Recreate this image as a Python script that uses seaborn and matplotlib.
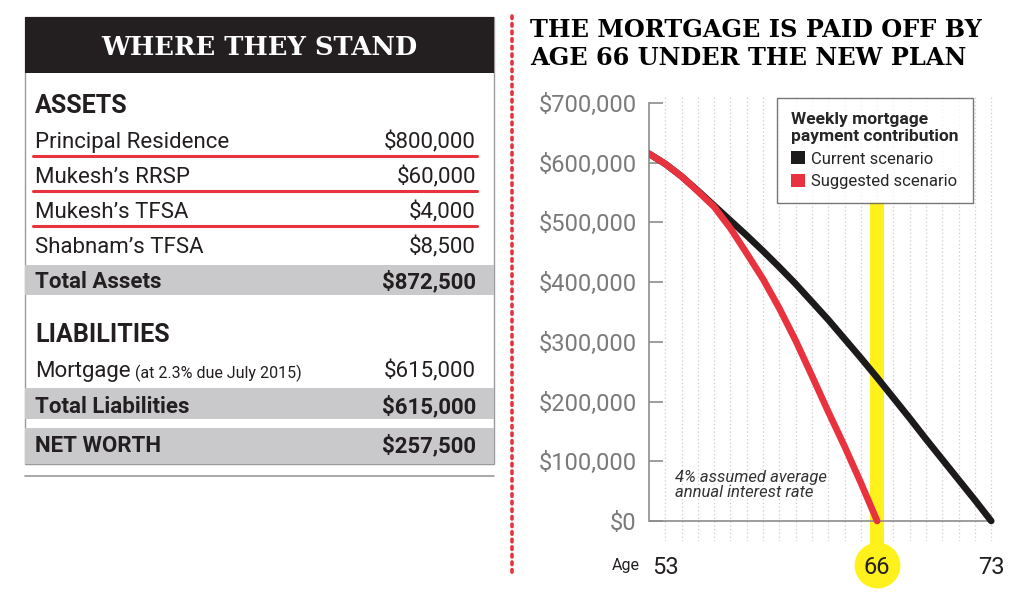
import pandas as pd
import matplotlib.pyplot as plt
import seaborn as sns
from matplotlib.patches import Rectangle, Patch
from matplotlib.lines import Line2D
from matplotlib.ticker import FuncFormatter

sns.set_style("white")
plt.rcParams["font.family"] = ["Roboto", "DejaVu Sans"]

# ---- data ----
ages_current = list(range(52, 74))
balance_current = [615000, 598000, 577000, 553000, 528000, 503000, 478000, 452000,
                   425000, 397000, 367000, 337000, 305000, 273000, 240000, 206000,
                   172000, 137000, 103000, 69000, 35000, 0]
ages_suggested = list(range(52, 67))
balance_suggested = [615000, 598000, 577000, 552000, 526000, 490000, 448000, 405000,
                     356000, 302000, 243000, 183000, 125000, 64000, 0]

asset_names = ["Principal Residence", "Mukesh\u2019s RRSP", "Mukesh\u2019s TFSA", "Shabnam\u2019s TFSA"]
asset_values = ["$800,000", "$60,000", "$4,000", "$8,500"]
total_assets = "$872,500"
liability_names = ["Mortgage"]
liability_notes = ["(at 2.3% due July 2015)"]
liability_values = ["$615,000"]
total_liabilities = "$615,000"
net_worth = "$257,500"

payoff_age = 66
age_labels = [53, 66, 73]

RED = "#e8333f"
BLACK = "#1c1a1b"
YELLOW = "#fff21c"
GREY_BAND = "#c9c9cb"
SLAB = dict(family="DejaVu Serif", weight="heavy")

df = pd.concat([
    pd.DataFrame({"age": ages_current, "balance": balance_current, "scenario": "Current scenario"}),
    pd.DataFrame({"age": ages_suggested, "balance": balance_suggested, "scenario": "Suggested scenario"}),
])

fig = plt.figure(figsize=(10.24, 5.96), dpi=100)

# ---- left panel: table drawn in pixel coordinates ----
bg = fig.add_axes([0, 0, 1, 1])
bg.set_xlim(0, 1024)
bg.set_ylim(596, 0)
bg.axis("off")

bg.add_patch(Rectangle((25, 17), 469, 447, facecolor="white", edgecolor="#9a9a9a", lw=1))
bg.add_patch(Rectangle((25, 17), 469, 56, facecolor="#231f20", edgecolor="none"))
bg.text(259, 55, "WHERE THEY STAND", color="white", fontsize=18.5, ha="center", va="baseline", **SLAB)

bg.text(35, 113, "ASSETS", fontsize=18, weight="bold", color="#231f20", va="baseline")
row_y = [148, 183, 218, 253]
for i, (name, val) in enumerate(zip(asset_names, asset_values)):
    bg.text(35, row_y[i], name, fontsize=16, color="#231f20", va="baseline")
    bg.text(476, row_y[i], val, fontsize=16, color="#231f20", va="baseline", ha="right")
    if i < len(asset_names) - 1:
        bg.plot([33, 477], [row_y[i] + 8, row_y[i] + 8], color=RED, lw=2.2)

bg.add_patch(Rectangle((25, 265), 469, 30, facecolor=GREY_BAND, edgecolor="none"))
bg.text(35, 288, "Total Assets", fontsize=16, weight="bold", color="#231f20", va="baseline")
bg.text(476, 288, total_assets, fontsize=16, weight="bold", color="#231f20", va="baseline", ha="right")

bg.text(35, 342, "LIABILITIES", fontsize=18, weight="bold", color="#231f20", va="baseline")
mort = bg.text(35, 377, liability_names[0], fontsize=16, color="#231f20", va="baseline")
bg.annotate(" " + liability_notes[0], xycoords=mort, xy=(1, 0), va="bottom",
            fontsize=11.5, color="#231f20")
bg.text(476, 377, liability_values[0], fontsize=16, color="#231f20", va="baseline", ha="right")

bg.add_patch(Rectangle((25, 388), 469, 31, facecolor=GREY_BAND, edgecolor="none"))
bg.text(35, 413, "Total Liabilities", fontsize=16, weight="bold", color="#231f20", va="baseline")
bg.text(476, 413, total_liabilities, fontsize=16, weight="bold", color="#231f20", va="baseline", ha="right")

bg.add_patch(Rectangle((25, 428), 469, 36, facecolor=GREY_BAND, edgecolor="none"))
bg.text(35, 452, "NET WORTH", fontsize=16, weight="bold", color="#231f20", va="baseline")
bg.text(476, 452, net_worth, fontsize=16, weight="bold", color="#231f20", va="baseline", ha="right")

bg.plot([25, 494], [476, 476], color="#9a9a9a", lw=1.2)

# red dotted divider
bg.add_line(Line2D([512, 512], [16, 576], color=RED, lw=2.6, linestyle=(0, (0.7, 1.4)),
                   dash_capstyle="round"))

bg.text(530, 37, "THE MORTGAGE IS PAID OFF BY", fontsize=17.3, color="black", va="baseline", **SLAB)
bg.text(530, 65, "AGE 66 UNDER THE NEW PLAN", fontsize=17.3, color="black", va="baseline", **SLAB)

# ---- right panel: chart ----
ax = fig.add_axes([649 / 1024, 1 - 541 / 596, 352 / 1024, (541 - 97) / 596])
ax.set_xlim(52, 73.6)
ax.set_ylim(-33500, 710000)

ax.vlines(range(53, 74), -33500, 710000, colors="#cdcdcd", linestyles=(0, (1, 2)), lw=0.9, zorder=0.3)

ax.add_patch(Rectangle((payoff_age - 0.43, -75000), 0.86, 610000, facecolor=YELLOW,
                       edgecolor="none", clip_on=False, zorder=0.4))
ax.plot([payoff_age], [-74000], "o", ms=32, color=YELLOW, clip_on=False, zorder=0.4)

ax.hlines(0, 52, 73, color="#8c8c8c", lw=1.2, zorder=1)

sns.lineplot(data=df, x="age", y="balance", hue="scenario",
             hue_order=["Current scenario", "Suggested scenario"],
             palette={"Current scenario": BLACK, "Suggested scenario": RED},
             linewidth=4.8, solid_capstyle="round", legend=False, ax=ax, zorder=3)

for s in ["top", "right", "bottom"]:
    ax.spines[s].set_visible(False)
ax.spines["left"].set_bounds(0, 700000)
ax.spines["left"].set_color("#8c8c8c")
ax.spines["left"].set_linewidth(1.2)

ax.set_yticks(range(0, 700001, 100000))
ax.yaxis.set_major_formatter(FuncFormatter(lambda v, p: f"${v:,.0f}"))
ax.tick_params(axis="y", direction="in", length=10, width=1.2, color="#8c8c8c",
               labelcolor="#7a7a7a", labelsize=17, pad=9, left=True)
ax.set_xticks(age_labels)
ax.set_xticklabels([str(a) for a in age_labels])
ax.tick_params(axis="x", length=0, labelsize=17, labelcolor="#231f20", pad=11)
ax.xaxis.set_zorder(4)
ax.set_xlabel("")
ax.set_ylabel("")
ax.grid(False)

ax.text(50.6, -74000, "Age", fontsize=11.5, color="#231f20", ha="center", va="center", clip_on=False)

ax.text(53.6, 61000, "4% assumed average\nannual interest rate", fontsize=12, style="italic",
        color="#333333", va="center", linespacing=1.0)

handles = [Patch(facecolor=BLACK, edgecolor="none"), Patch(facecolor=RED, edgecolor="none")]
leg = ax.legend(handles, ["Current scenario", "Suggested scenario"],
                title="Weekly mortgage\npayment contribution",
                loc="upper left", bbox_to_anchor=(777 / 1024, 1 - 98 / 596),
                bbox_transform=fig.transFigure, frameon=True, fancybox=False,
                fontsize=12, title_fontproperties={"weight": "bold", "size": 12.5},
                alignment="left", handlelength=0.8, handleheight=0.8, handletextpad=0.4,
                labelspacing=0.45, borderpad=0.85, borderaxespad=0)
leg.get_title().set_linespacing(1.15)
leg.get_frame().set_edgecolor("#555555")
leg.get_frame().set_linewidth(1)
leg.set_zorder(5)

plt.savefig("out.png", dpi=100)
